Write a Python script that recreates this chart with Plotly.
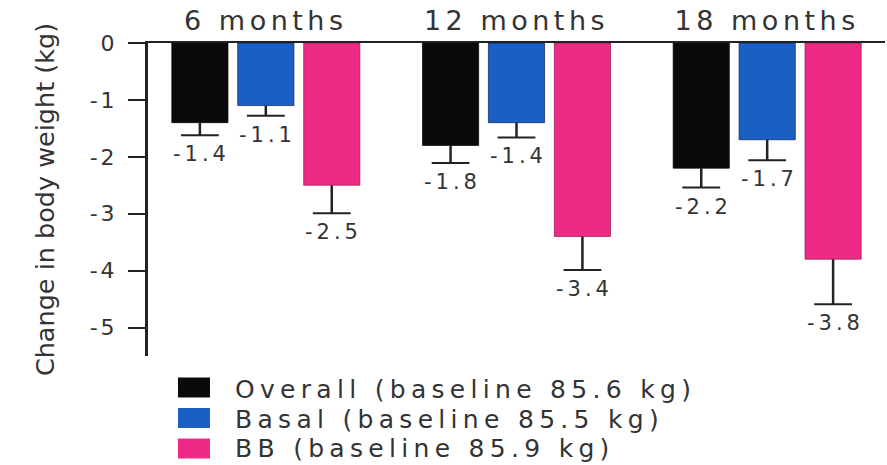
import plotly.graph_objects as go

# ---- data ----
categories = ["6 months", "12 months", "18 months"]
series_names = [
    "Overall (baseline 85.6 kg)",
    "Basal (baseline 85.5 kg)",
    "BB (baseline 85.9 kg)",
]
overall = [-1.4, -1.8, -2.2]
basal = [-1.1, -1.4, -1.7]
bb = [-2.5, -3.4, -3.8]
overall_err = [0.22, 0.31, 0.34]
basal_err = [0.18, 0.26, 0.36]
bb_err = [0.49, 0.59, 0.79]
y_tick_vals = [0, -1, -2, -3, -4, -5]
y_tick_text = ["0", "-1", "-2", "-3", "-4", "-5"]
y_title = "Change in body weight (kg)"

# ---- style ----
colors = ["#0a0a0a", "#1a5fc4", "#ee2a86"]
edges = ["rgba(0,0,0,0.7)", "rgba(10,30,90,0.7)", "rgba(130,10,60,0.6)"]
W, H = 887, 465
M_L, M_R, M_T, M_B = 148, 2, 43, 109
BARGAP, GROUPGAP = 0.211, 0.148
FONT = "DejaVu Sans"
TEXT = "#333333"
INK = "#222222"

x_idx = list(range(len(categories)))
slot = (1 - BARGAP) / len(series_names)


def paper_x(px):
    return (px - M_L) / (W - M_L - M_R)


def paper_y(py):
    return (H - M_B - py) / (H - M_T - M_B)


def spaced(s, px):
    """Wrap a label in a span with extra letter spacing."""
    return f'<span style="letter-spacing:{px}px">{s}</span>'


fig = go.Figure()
all_vals = [overall, basal, bb]
all_errs = [overall_err, basal_err, bb_err]

for k, (name, vals, errs) in enumerate(zip(series_names, all_vals, all_errs)):
    fig.add_trace(go.Bar(
        x=x_idx, y=vals, name=name,
        marker=dict(color=colors[k], line=dict(color=edges[k], width=1)),
        error_y=dict(type="data", symmetric=False, array=[0] * len(vals),
                     arrayminus=errs, color=INK, thickness=2.5, width=0),
        showlegend=False, hoverinfo="skip",
    ))

for k, (vals, errs) in enumerate(zip(all_vals, all_errs)):
    xs = [i + (k - 1) * slot for i in x_idx]
    ys = [v - e for v, e in zip(vals, errs)]
    # error-bar caps at the lower end only
    fig.add_trace(go.Scatter(
        x=xs, y=ys, mode="markers",
        marker=dict(symbol="line-ew", size=27, line=dict(color=INK, width=2)),
        showlegend=False, hoverinfo="skip",
    ))
    for x, y, v in zip(xs, ys, vals):
        fig.add_annotation(
            x=x, y=y, text=spaced(f"{v:.1f}", 4), showarrow=False,
            yanchor="middle", yshift=-19, xshift=2,
            font=dict(family=FONT, size=21, color=TEXT),
        )

# legend drawn as swatches + labels under the plot
swatch_rows = [387.5, 418, 448.5]
label_rows = [389, 419.5, 448.5]
for k, (name, sy, ty) in enumerate(zip(series_names, swatch_rows, label_rows)):
    fig.add_shape(
        type="rect", xref="paper", yref="paper",
        x0=paper_x(178), x1=paper_x(210),
        y0=paper_y(sy - 10), y1=paper_y(sy + 10),
        fillcolor=colors[k], line=dict(width=0),
    )
    fig.add_annotation(
        xref="paper", yref="paper", x=paper_x(233), y=paper_y(ty),
        xanchor="left", yanchor="middle", text=spaced(name, 5.3), showarrow=False,
        font=dict(family=FONT, size=25, color=TEXT),
    )

fig.update_layout(
    width=W, height=H,
    margin=dict(l=M_L, r=M_R, t=M_T, b=M_B, pad=0),
    barmode="group", bargap=BARGAP, bargroupgap=GROUPGAP,
    plot_bgcolor="white", paper_bgcolor="white",
    font=dict(family=FONT, color=TEXT),
    showlegend=False,
    xaxis=dict(
        side="top", range=[-0.47, 2.47],
        tickmode="array", tickvals=x_idx,
        ticktext=[spaced(c, 4.5) for c in categories],
        tickfont=dict(family=FONT, size=27, color=TEXT),
        showline=True, linecolor=INK, linewidth=2,
        ticks="", showgrid=False, zeroline=False, fixedrange=True,
        ticklabelstandoff=0,
    ),
    yaxis=dict(
        range=[-5.5, 0],
        tickmode="array", tickvals=y_tick_vals,
        ticktext=[spaced(t, 3) for t in y_tick_text],
        tickfont=dict(family=FONT, size=22, color=TEXT),
        ticks="outside", ticklen=17, tickwidth=2, tickcolor=INK,
        showline=True, linecolor=INK, linewidth=3,
        showgrid=False, zeroline=False, fixedrange=True,
        ticklabelstandoff=6,
        title=dict(text=y_title, font=dict(family=FONT, size=25.5, color=TEXT), standoff=28),
    ),
)

fig.write_html("out.html", config={"displayModeBar": False})
